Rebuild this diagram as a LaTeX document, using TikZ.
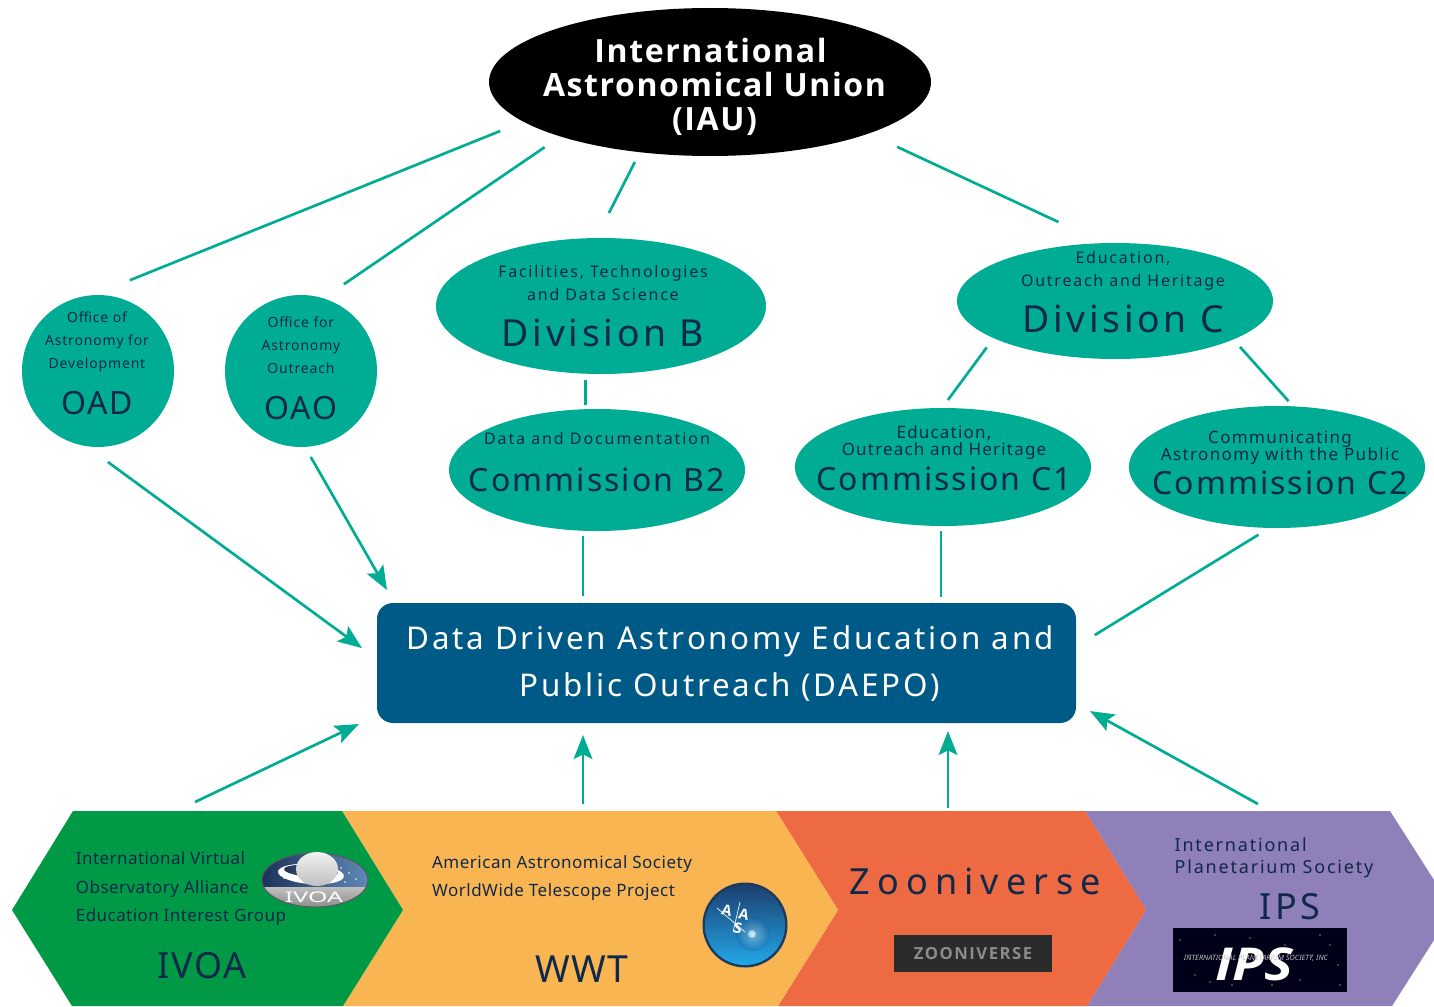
\documentclass[tikz,border=0pt]{standalone}
\usepackage{fontspec}
\setmainfont[LetterSpace=6]{Noto Sans}
\newfontfamily\heavy[LetterSpace=5]{Open Sans}
\usetikzlibrary{arrows.meta,shapes.geometric,shadings,calc}
\definecolor{teal}{HTML}{00AC94}
\definecolor{daepo}{HTML}{005A87}
\definecolor{navy}{HTML}{10284A}
\definecolor{cgreen}{HTML}{009A46}
\definecolor{corange}{HTML}{F9B552}
\definecolor{cred}{HTML}{EE6A42}
\definecolor{cpurple}{HTML}{8F80BA}
\definecolor{spacedark}{HTML}{1C3358}
\definecolor{spacelight}{HTML}{6088B8}
\definecolor{aasrim}{HTML}{1B3A5E}
\definecolor{aastop}{HTML}{1C3F70}
\definecolor{aasmid}{HTML}{0F5FA8}
\definecolor{aasbot}{HTML}{22A8E8}
\tikzset{
  oval/.style 2 args={ellipse,fill=teal,inner sep=0pt,outer sep=0pt,minimum width=#1*0.75pt,minimum height=#2*0.75pt},
  disc/.style={circle,fill=teal,inner sep=0pt,outer sep=0pt,minimum size=114pt},
  txt/.style n args={3}{text=navy,align=center,inner sep=0pt,font=\fontsize{#1}{#2}\selectfont\addfontfeatures{LetterSpace=#3}},
  link/.style={draw=teal,line width=2pt},
  arrowlink/.style={link,-{Stealth[length=18pt,width=14pt,inset=3.5pt]}},
  gap/.style 2 args={shorten <=#1*0.75pt,shorten >=#2*0.75pt},
  aasletter/.style={text=white,inner sep=0pt,rotate=-12,font=\heavy\bfseries\fontsize{11}{11}\selectfont}
}
\begin{document}
\begin{tikzpicture}[x=0.75pt,y=-0.75pt]
\useasboundingbox (0,0) rectangle (1434,1006);
\fill[white] (0,0) rectangle (1434,1006);
% chevron band
\fill[cpurple] (1085,811) -- (1390,811) -- (1434,880) -- (1434,940) -- (1392,1006) -- (1087,1006) -- (1146,910) -- cycle;
\fill[cred] (776,811) -- (1085,811) -- (1146,910) -- (1087,1006) -- (778,1006) -- (838,910) -- cycle;
\fill[corange] (342,811) -- (776,811) -- (838,910) -- (778,1006) -- (343,1006) -- (403,910) -- cycle;
\fill[cgreen] (12,910) -- (73,811) -- (342,811) -- (403,910) -- (343,1006) -- (72,1006) -- cycle;
% shapes
\node[oval={442}{148},fill=black] (iau) at (710,82) {};
\node[text=white,align=center,inner sep=0pt,font=\heavy\bfseries\fontsize{24}{25.5}\selectfont] (iautext) at (714.5,87) {\hspace*{-6pt}International\\Astronomical Union\\(IAU)};
\node[disc] (oad) at (98,371) {};
\node[disc] (oao) at (301,371) {};
\node[oval={330}{136}] (divb) at (601,306) {};
\node[oval={316}{116}] (divc) at (1115,301) {};
\node[oval={296}{122}] (b2) at (597,470) {};
\node[oval={296}{118}] (c1) at (943,467) {};
\node[oval={296}{122}] (c2) at (1277,467) {};
\node[fill=daepo,rounded corners=12pt,minimum width=524.25pt,minimum height=90pt,inner sep=0pt,outer sep=0pt] (daepo) at (726.5,663) {};
% ellipse texts
\node[txt={10.5}{17.25}{6}] (oadsmall) at (97,342) {Office of\\Astronomy for\\Development};
\node[txt={24}{24}{6}] (oadbig) at (97,403) {OAD};
\node[txt={10.5}{17.25}{6}] (oaosmall) at (301,345) {Office for\\Astronomy\\Outreach};
\node[txt={24}{24}{6}] (oaobig) at (301,408) {OAO};
\node[txt={12}{17.25}{11}] (divbsmall) at (603,283) {Facilities, Technologies\\and Data Science};
\node[txt={28}{28}{10}] (divbbig) at (603,333) {Division B};
\node[txt={12}{17.25}{11}] (divcsmall) at (1123,270.5) {Education,\\Outreach and Heritage};
\node[txt={28}{28}{10}] (divcbig) at (1123,319) {Division C};
\node[txt={12}{14}{12}] (b2small) at (597,438) {Data and Documentation};
\node[txt={24}{26}{6.5}] (b2big) at (597,480) {Commission B2};
\node[txt={12.75}{12.75}{7}] (c1small) at (944,443) {Education,\\Outreach and Heritage};
\node[txt={24}{26}{6.5}] (c1big) at (944,479) {Commission C1};
\node[txt={12.75}{12.75}{8}] (c2small) at (1280,448) {Communicating\\Astronomy with the Public};
\node[txt={24}{26}{6.5}] (c2big) at (1280,483) {Commission C2};
\node[txt={23.5}{35.25}{9},text=white] (daepotext) at (730,664) {Data Driven Astronomy Education and\\Public Outreach (DAEPO)};
% connectors
\draw[link,gap={25}{40}] (iau.192.5) -- (oad.94);
\draw[link,gap={19}{25}] (iau.200) -- (oao.73.7);
\draw[link,gap={11}{28}] (iau.225.6) -- (divb.94.5);
\draw[link,gap={31.5}{50}] (iau.-18.1) -- (divc.101.4);
\draw[link,gap={6}{4}] (divb.257.5) -- (divb.257.5 |- b2.north);
\draw[link,gap={5}{7}] (b2.257.9) -- (b2.257.9 |- daepo.north);
\draw[link,gap={11.6}{10}] (divc.197.5) -- (c1.91);
\draw[link,gap={10}{7}] (divc.-18) -- (c2.75.6);
\draw[link,gap={5}{6}] (c1.268) -- (c1.268 |- daepo.north);
\draw[link,gap={13}{22}] (c2.263.5) -- ($(daepo.north east)!.363!(daepo.south east)$);
\draw[arrowlink,gap={27}{18.6}] (oad.261.1) -- ($(daepo.north west)!.467!(daepo.south west)$);
\draw[arrowlink,gap={11.6}{15}] (oao.-87) -- ($(daepo.north west)!.025!(daepo.north east)$);
\coordinate (ivoatop) at (195,802);
\coordinate (wwttop) at (583,804);
\coordinate (zootop) at (948,808);
\coordinate (ipstop) at (1258,804);
\draw[arrowlink,gap={0}{20}] (ivoatop) -- ($(daepo.north west)!.937!(daepo.south west)$);
\draw[arrowlink,gap={0}{12}] (wwttop) -- (wwttop |- daepo.south);
\draw[arrowlink,gap={0}{8}] (zootop) -- (zootop |- daepo.south);
\draw[arrowlink,gap={0}{16}] (ipstop) -- ($(daepo.north east)!.836!(daepo.south east)$);
% IVOA block
\node[txt={12.75}{21.4}{2.5},align=left] (ivoasmall) at (181,889) {International Virtual\\Observatory Alliance\\Education Interest Group};
\node[txt={27}{29}{4}] (ivoabig) at (202,966) {IVOA};
\begin{scope}
\clip (315,880) ellipse [x radius=53,y radius=27];
\shade[left color=spacedark,right color=spacelight] (262,853) rectangle (368,908);
\shade[top color=black!25,bottom color=black!45] (262,887) rectangle (368,908);
\end{scope}
\draw[black!65,line width=.7pt] (315,880) ellipse [x radius=53,y radius=27];
\fill[white,rotate around={-4:(311,874)}] (311,874) ellipse [x radius=33,y radius=10];
\shade[left color=spacedark,right color=spacelight,rotate around={-4:(311,872)}] (311,871) ellipse [x radius=27,y radius=6];
\shade[top color=black!5,bottom color=black!25] (317,869) ellipse [x radius=21,y radius=17];
\foreach \sx/\sy in {279/871,284/878,341/868,349/873,356/879,345/882}
  \fill[white] (\sx,\sy) circle [radius=0.9];
\node[text=white,inner sep=0pt,xscale=1.7,font=\fontsize{11}{11}\selectfont\addfontfeatures{LetterSpace=0}] (ivoalogo) at (314,897) {IVOA};
% WWT block
\node[txt={12.75}{21.4}{3},align=left] (wwtsmall) at (562,878) {American Astronomical Society\\WorldWide Telescope Project};
\node[txt={28}{29}{4}] (wwtbig) at (582,969) {WWT};
\fill[aasrim] (745,925) circle [radius=42.5];
\shade[top color=aastop,middle color=aasmid,bottom color=aasbot] (745,925) circle [radius=40];
\shade[inner color=white,outer color=aasmid,opacity=.35] (753,934) circle [radius=17];
\shade[inner color=white,outer color=white!60!aasbot,opacity=.8] (752,934) circle [radius=4];
\draw[white,line width=.5pt] (717,908) -- (745,932);
\draw[white,line width=.5pt] (740,902) -- (733,932);
\node[aasletter] (aasa) at (727,910) {A};
\node[aasletter] (aasb) at (744,914) {A};
\node[aasletter] (aasc) at (738,928) {S};
% Zooniverse block
\node[txt={27}{29}{20}] (zootext) at (975,881) {Zooniverse};
\node[fill=black!83,minimum width=118pt,minimum height=27.75pt,inner sep=0pt,text=black!45,font=\heavy\bfseries\fontsize{12.5}{12.5}\selectfont\addfontfeatures{LetterSpace=9}] (zoologo) at (973,953.5) {ZOONIVERSE};
% IPS block
\node[txt={13.5}{16.5}{10},align=left] (ipssmall) at (1274,858) {International\\Planetarium Society};
\node[txt={27}{29}{10}] (ipsbig) at (1290,907) {IPS};
\fill[black!90!blue] (1173,928) rectangle (1347,992);
\foreach \sx/\sy in {1180/940,1195/975,1215/935,1232/985,1250/938,1285/945,1300/980,1320/935,1338/965,1190/955,1340/985,1312/955,1272/985,1210/982,1330/945}
  \fill[white] (\sx,\sy) circle [radius=0.7];
\node[text=white,inner sep=0pt,xscale=1.2,font=\heavy\bfseries\itshape\fontsize{34}{34}\selectfont\addfontfeatures{LetterSpace=0}] (ipslogo) at (1254,964) {IPS};
\node[text=black!25,inner sep=0pt,font=\itshape\fontsize{5.5}{6}\selectfont\addfontfeatures{LetterSpace=0}] (ipsname) at (1256,958) {INTERNATIONAL PLANETARIUM SOCIETY, INC};
\end{tikzpicture}
\end{document}
